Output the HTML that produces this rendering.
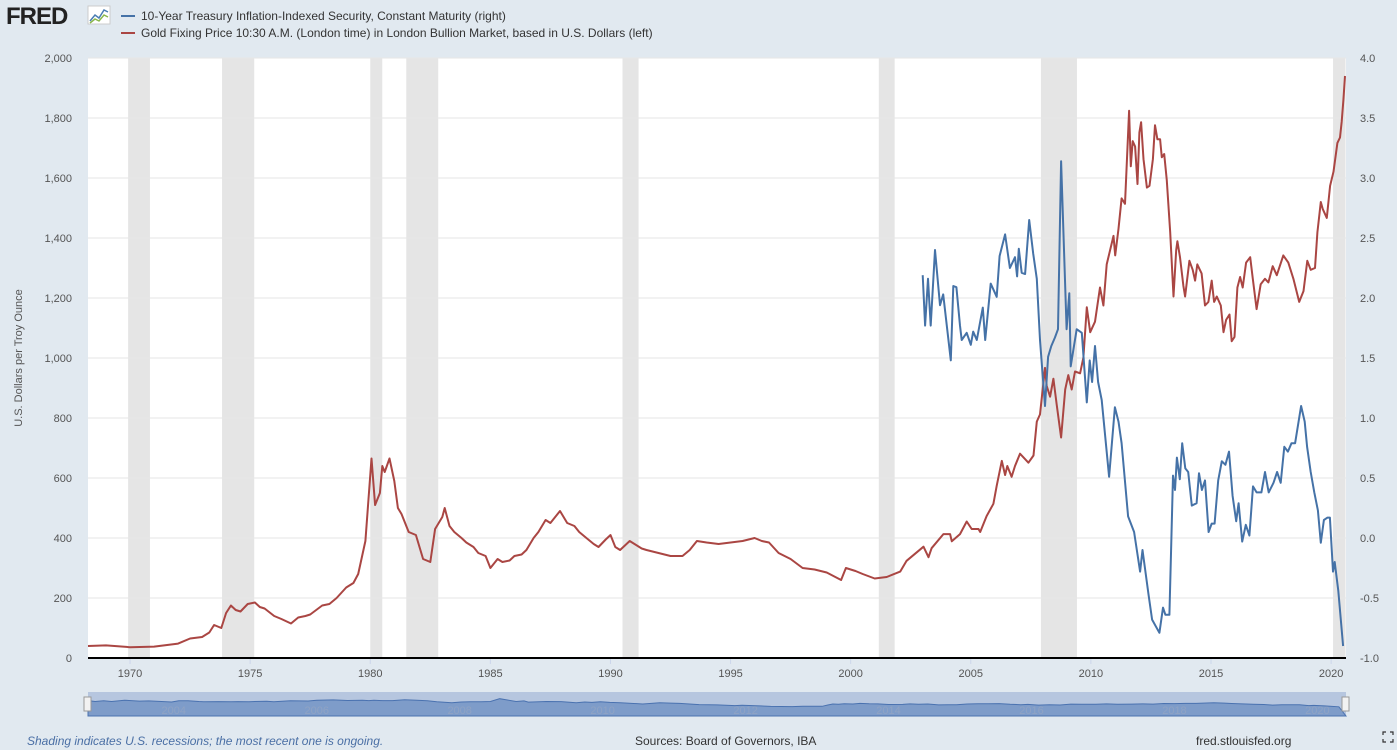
<!DOCTYPE html>
<html><head><meta charset="utf-8">
<style>
body{margin:0;background:#e1e9f0;font-family:"Liberation Sans",sans-serif;}
#wrap{position:relative;width:1397px;height:750px;overflow:hidden;}
svg text{font-family:"Liberation Sans",sans-serif;}
</style></head>
<body>
<div id="wrap">
<svg id="chart" width="1397" height="750">
  <g>
    <text x="6" y="24" font-size="24" font-weight="bold" fill="#222" letter-spacing="-1">FRED</text>
    <rect x="88" y="6" width="22" height="18" fill="#fff" stroke="#ccc"/>
    <polyline points="90,21 95,15 99,18 104,10 108,12" fill="none" stroke="#4a7db3" stroke-width="1.5"/>
    <polyline points="90,23 95,19 99,21 104,15 108,17" fill="none" stroke="#8ab74b" stroke-width="1.5"/>
  </g>
  <g>
    <g>
      <line x1="121" y1="16" x2="135" y2="16" stroke="#4572a7" stroke-width="2"/>
      <text x="141" y="20" font-size="12" fill="#333">10-Year Treasury Inflation-Indexed Security, Constant Maturity (right)</text>
    </g>
    <g>
      <line x1="121" y1="33" x2="135" y2="33" stroke="#aa4643" stroke-width="2"/>
      <text x="141" y="37" font-size="12" fill="#333">Gold Fixing Price 10:30 A.M. (London time) in London Bullion Market, based in U.S. Dollars (left)</text>
    </g>
  </g>
  <rect x="88" y="58" width="1258" height="600" fill="#fff"/>
  <g id="rec"></g>
  <g id="grid"></g>
  <g id="series"></g>
  <line x1="88" y1="658" x2="1346" y2="658" stroke="#000" stroke-width="2"/>
  <g id="xt"></g>
  <text transform="translate(22,358) rotate(-90)" text-anchor="middle" font-size="11" fill="#555">U.S. Dollars per Troy Ounce</text>
  <g>
    <rect x="88" y="692" width="1258" height="24" fill="#b6c6df"/>
    <path id="navpath" fill="#7e9cc9" stroke="#4a72b0" stroke-width="1"/>
    <g id="navlabels"></g>
    <rect x="84" y="697" width="7" height="14" fill="#f2f2f2" stroke="#999"/>
    <rect x="1342" y="697" width="7" height="14" fill="#f2f2f2" stroke="#999"/>
  </g>
  <text x="27" y="745" font-size="12" font-style="italic" fill="#4a6fa5">Shading indicates U.S. recessions; the most recent one is ongoing.</text>
  <text x="635" y="745" font-size="12" fill="#333">Sources: Board of Governors, IBA</text>
  <text x="1196" y="745" font-size="12" fill="#333">fred.stlouisfed.org</text>
  <g stroke="#333" stroke-width="1.2" fill="none">
    <polyline points="1383,735 1383,732 1386,732"/><polyline points="1390,732 1393,732 1393,735"/>
    <polyline points="1383,739 1383,742 1386,742"/><polyline points="1390,742 1393,742 1393,739"/>
  </g>
</svg>
</div>
<script>
const goldYears=[1968.25,1969,1970,1971,1972,1972.5,1973,1973.3,1973.5,1973.8,1974,1974.2,1974.4,1974.6,1974.9,1975.2,1975.4,1975.6,1976,1976.3,1976.7,1977,1977.3,1977.5,1978,1978.3,1978.6,1979,1979.3,1979.5,1979.8,1980.05,1980.2,1980.4,1980.5,1980.6,1980.8,1981,1981.15,1981.3,1981.6,1981.9,1982.2,1982.5,1982.7,1983,1983.1,1983.3,1983.5,1983.8,1984,1984.3,1984.5,1984.8,1985,1985.3,1985.5,1985.8,1986,1986.3,1986.5,1986.8,1987,1987.3,1987.5,1987.9,1988.2,1988.5,1988.7,1989,1989.3,1989.5,1989.8,1990,1990.2,1990.4,1990.8,1991,1991.3,1991.5,1992,1992.5,1993,1993.3,1993.6,1994,1994.5,1995,1995.5,1996,1996.3,1996.6,1997,1997.5,1998,1998.5,1999,1999.6,1999.8,2000.2,2000.5,2001,2001.5,2002.06,2002.33,2003.03,2003.24,2003.37,2003.86,2004.14,2004.21,2004.55,2004.83,2005.04,2005.32,2005.39,2005.66,2005.94,2006.08,2006.29,2006.43,2006.52,2006.70,2006.84,2007.05,2007.19,2007.40,2007.61,2007.75,2007.88,2008.09,2008.16,2008.30,2008.44,2008.58,2008.76,2008.93,2009.06,2009.20,2009.34,2009.55,2009.69,2009.83,2009.97,2010.17,2010.38,2010.52,2010.66,2010.94,2011.01,2011.15,2011.28,2011.42,2011.59,2011.66,2011.74,2011.84,2011.94,2012.02,2012.09,2012.19,2012.33,2012.44,2012.58,2012.67,2012.77,2012.88,2012.95,2013.05,2013.16,2013.30,2013.44,2013.55,2013.60,2013.71,2013.85,2013.92,2014.10,2014.24,2014.34,2014.43,2014.61,2014.75,2014.89,2015.03,2015.13,2015.24,2015.41,2015.52,2015.63,2015.77,2015.86,2015.98,2016.10,2016.21,2016.32,2016.46,2016.63,2016.74,2016.90,2017.07,2017.25,2017.39,2017.57,2017.74,2018.01,2018.22,2018.43,2018.67,2018.85,2019.01,2019.15,2019.33,2019.43,2019.57,2019.65,2019.82,2019.96,2020.10,2020.26,2020.37,2020.44,2020.51,2020.58];
const goldValues=[40,42,36,38,48,65,70,85,110,100,150,175,160,155,180,185,170,165,140,130,115,135,140,145,175,180,200,235,250,280,390,665,510,550,640,620,665,590,500,480,420,410,330,320,430,470,500,440,420,400,385,370,350,340,300,330,320,325,340,345,360,400,420,460,450,490,450,440,420,400,380,370,395,410,370,360,390,380,365,360,350,340,340,360,390,385,380,385,390,400,390,385,350,330,300,295,285,260,300,290,280,265,270,288,324,371,336,366,413,413,389,413,455,430,430,420,473,514,574,657,610,640,604,640,681,669,651,675,788,812,967,907,871,931,842,735,895,943,895,955,949,1002,1169,1086,1121,1235,1175,1312,1407,1342,1431,1532,1514,1824,1639,1723,1705,1580,1752,1786,1663,1568,1574,1663,1776,1729,1729,1669,1680,1592,1419,1205,1360,1389,1336,1240,1205,1324,1294,1258,1312,1282,1175,1187,1258,1187,1205,1175,1086,1127,1145,1056,1070,1235,1270,1235,1318,1336,1264,1163,1246,1264,1252,1306,1276,1342,1318,1264,1187,1223,1324,1294,1300,1419,1520,1497,1467,1574,1621,1717,1735,1788,1860,1940];
const tipsYears=[2003.0,2003.1,2003.22,2003.33,2003.51,2003.72,2003.85,2004.17,2004.27,2004.4,2004.55,2004.62,2004.83,2005.0,2005.1,2005.25,2005.5,2005.6,2005.83,2006.08,2006.2,2006.43,2006.63,2006.84,2006.93,2007.0,2007.12,2007.26,2007.43,2007.6,2007.75,2007.88,2008.09,2008.22,2008.35,2008.5,2008.63,2008.76,2008.99,2009.1,2009.16,2009.41,2009.62,2009.83,2009.95,2010.05,2010.17,2010.3,2010.45,2010.76,2011.0,2011.15,2011.28,2011.55,2011.8,2012.05,2012.15,2012.4,2012.55,2012.85,2013.0,2013.1,2013.27,2013.35,2013.42,2013.5,2013.58,2013.7,2013.8,2013.93,2014.05,2014.2,2014.4,2014.5,2014.62,2014.75,2014.9,2015.03,2015.15,2015.3,2015.45,2015.6,2015.75,2015.9,2016.05,2016.15,2016.3,2016.45,2016.6,2016.75,2016.9,2017.1,2017.25,2017.4,2017.6,2017.75,2017.9,2018.05,2018.2,2018.35,2018.5,2018.75,2018.9,2019.0,2019.15,2019.3,2019.45,2019.57,2019.7,2019.85,2019.95,2020.08,2020.15,2020.3,2020.5];
const tipsValues=[2.19,1.77,2.16,1.77,2.40,1.94,2.03,1.48,2.10,2.09,1.77,1.65,1.71,1.61,1.72,1.65,1.92,1.65,2.12,2.01,2.35,2.53,2.25,2.34,2.18,2.41,2.21,2.20,2.65,2.37,2.16,1.65,1.10,1.51,1.60,1.67,1.74,3.14,1.74,2.04,1.43,1.74,1.71,1.13,1.48,1.30,1.60,1.30,1.15,0.51,1.09,0.97,0.79,0.18,0.05,-0.28,-0.10,-0.47,-0.68,-0.79,-0.58,-0.64,-0.64,0.0,0.52,0.40,0.67,0.49,0.79,0.58,0.55,0.27,0.29,0.54,0.40,0.48,0.05,0.12,0.12,0.48,0.64,0.61,0.72,0.35,0.14,0.29,-0.03,0.11,0.02,0.43,0.38,0.38,0.55,0.38,0.46,0.55,0.46,0.76,0.72,0.79,0.79,1.10,0.97,0.76,0.55,0.38,0.23,-0.04,0.15,0.17,0.17,-0.28,-0.20,-0.44,-0.90];
const recStarts=[1969.92,1973.83,1980.0,1981.5,1990.5,2001.17,2007.92,2020.08];
const recEnds=[1970.83,1975.17,1980.5,1982.83,1991.17,2001.83,2009.42,2020.6];
const leftTicks=[0,200,400,600,800,1000,1200,1400,1600,1800,2000];
const leftLabels=["0","200","400","600","800","1,000","1,200","1,400","1,600","1,800","2,000"];
const rightTicks=[-1,-0.5,0,0.5,1,1.5,2,2.5,3,3.5,4];
const xTicks=[1970,1975,1980,1985,1990,1995,2000,2005,2010,2015,2020];
const navLabelYears=[2004,2006,2008,2010,2012,2014,2016,2018,2020];

const NS="http://www.w3.org/2000/svg";
const X0=88,X1=1346,Y0=58,Y1=658,YR0=1968.25,YR1=2020.62;
const xs=y=>X0+(y-YR0)/(YR1-YR0)*(X1-X0);
const yL=v=>Y1-v/2000*(Y1-Y0);
const yR=v=>Y1-(v+1)/5*(Y1-Y0);
function mk(tag,attrs,parent){const e=document.createElementNS(NS,tag);for(const k in attrs)e.setAttribute(k,attrs[k]);parent.appendChild(e);return e;}
const rec=document.getElementById('rec');
recStarts.forEach((s,i)=>{
  const r=mk('rect',{x:xs(s),y:Y0,width:xs(recEnds[i])-xs(s),height:Y1-Y0,fill:'#e5e5e5'},rec);
  
  
});
const grid=document.getElementById('grid');
leftTicks.forEach((v,i)=>{
  if(v>0){const l=mk('line',{x1:X0,x2:X1,y1:yL(v),y2:yL(v),stroke:'#e6e6e6','stroke-width':1},grid);
  
  }
  const t=mk('text',{x:72,y:yL(v)+4,'text-anchor':'end','font-size':11,fill:'#555'},grid);
  t.textContent=leftLabels[i];
  
  
});
rightTicks.forEach(v=>{
  const t=mk('text',{x:1360,y:yR(v)+4,'font-size':11,fill:'#555'},grid);
  t.textContent=v.toFixed(1);
  
  
});
const xt=document.getElementById('xt');
xTicks.forEach(y=>{
  mk('line',{x1:xs(y),x2:xs(y),y1:659,y2:664,stroke:'#ccd6eb'},xt);
  const t=mk('text',{x:xs(y),y:677,'text-anchor':'middle','font-size':11,fill:'#555'},xt);
  t.textContent=y;
  
  
});
const ser=document.getElementById('series');
const gp=mk('path',{d:goldYears.map((y,i)=>(i?'L':'M')+xs(y).toFixed(1)+','+yL(goldValues[i]).toFixed(1)).join(''),fill:'none',stroke:'#aa4643','stroke-width':2,'stroke-linejoin':'round'},ser);


const tp=mk('path',{d:tipsYears.map((y,i)=>(i?'L':'M')+xs(y).toFixed(1)+','+yR(tipsValues[i]).toFixed(1)).join(''),fill:'none',stroke:'#4572a7','stroke-width':2,'stroke-linejoin':'round'},ser);


const nx=y=>X0+(y-2003)/(2020.6-2003)*(X1-X0);
let d='M'+X0+',716';
tipsYears.forEach((y,i)=>{d+='L'+nx(y).toFixed(1)+','+(703-(tipsValues[i]-1)*2).toFixed(1);});
d+='L'+X1+',716Z';
document.getElementById('navpath').setAttribute('d',d);
const nl=document.getElementById('navlabels');
navLabelYears.forEach(y=>{
  const t=mk('text',{x:nx(y+0.2),y:714,'text-anchor':'middle','font-size':11,fill:'#8fa3c4'},nl);
  t.textContent=y;
  
  
});
</script>
</body></html>
